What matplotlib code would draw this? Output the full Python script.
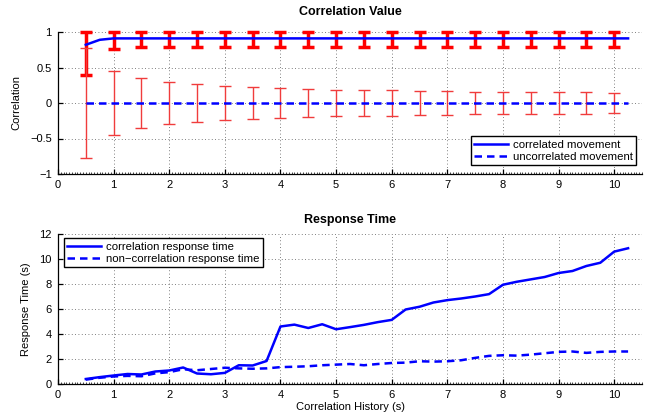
import matplotlib.pyplot as plt
import matplotlib.ticker as ticker
import numpy as np

plt.rcParams['font.family'] = ['Liberation Sans', 'DejaVu Sans']

# correlation value panel
err_x = [0.5, 1, 1.5, 2, 2.5, 3, 3.5, 4, 4.5, 5, 5.5, 6, 6.5, 7, 7.5, 8, 8.5, 9, 9.5, 10]
corr_lo = [0.40, 0.76, 0.79, 0.79, 0.79, 0.79, 0.79, 0.79, 0.79, 0.79,
           0.79, 0.79, 0.79, 0.79, 0.79, 0.79, 0.79, 0.79, 0.79, 0.79]
corr_hi = [1.0] * 20
uncorr_half = [0.78, 0.45, 0.35, 0.30, 0.27, 0.24, 0.22, 0.21, 0.20, 0.19,
               0.18, 0.18, 0.17, 0.17, 0.16, 0.16, 0.16, 0.15, 0.15, 0.14]

hist_x = [0.5 + 0.25 * i for i in range(40)]
corr_mean = [0.82, 0.89] + [0.91] * 38
uncorr_mean = [0.0] * 40

# response time panel
resp_corr = [0.40, 0.55, 0.68, 0.80, 0.76, 1.00, 1.08, 1.32, 0.84, 0.78,
             0.89, 1.50, 1.48, 1.84, 4.60, 4.75, 4.48, 4.78, 4.38, 4.55,
             4.73, 4.95, 5.13, 5.96, 6.18, 6.52, 6.71, 6.84, 7.00, 7.19,
             7.94, 8.18, 8.37, 8.56, 8.88, 9.04, 9.44, 9.70, 10.59, 10.86]
resp_uncorr = [0.35, 0.50, 0.60, 0.65, 0.62, 0.85, 0.95, 1.18, 1.10, 1.20,
               1.30, 1.25, 1.22, 1.25, 1.35, 1.38, 1.42, 1.50, 1.55, 1.60,
               1.50, 1.60, 1.68, 1.71, 1.82, 1.79, 1.82, 1.90, 2.09, 2.25,
               2.30, 2.27, 2.35, 2.46, 2.57, 2.60, 2.49, 2.57, 2.60, 2.60]

fig = plt.figure(figsize=(6.51, 4.18), dpi=100)
ax1 = fig.add_axes([58/651, 1 - 174/418, 584/651, 142/418])
ax2 = fig.add_axes([58/651, 1 - 384/418, 584/651, 150/418])

# error bars first so the lines sit on top
cm = np.array(corr_mean[::2])
eb1 = ax1.errorbar(err_x, cm, yerr=[cm - np.array(corr_lo), np.array(corr_hi) - cm],
                   fmt='none', ecolor='red', elinewidth=2.5, capsize=4.5, capthick=2.5)
eb2 = ax1.errorbar(err_x, np.zeros(20), yerr=uncorr_half, fmt='none',
                   ecolor='#f03c3c', elinewidth=1.0, capsize=4.5, capthick=1.0)
for eb in (eb1, eb2):
    for art in eb.lines[1] + eb.lines[2]:
        art.set_clip_on(False)
ax1.plot(hist_x, corr_mean, color='blue', lw=1.8, label='correlated movement')
ax1.plot(hist_x, uncorr_mean, color='blue', lw=1.8, ls=(0, (3, 2)),
         label='uncorrelated movement')

ax2.plot(hist_x, resp_corr, color='blue', lw=1.8, label='correlation response time')
ax2.plot(hist_x, resp_uncorr, color='blue', lw=1.8, ls=(0, (3, 2)),
         label='non\u2212correlation response time')

ax1.set_ylim(-1, 1)
ax1.set_yticks([-1, -0.5, 0, 0.5, 1])
ax1.set_yticklabels(['\u22121', '\u22120.5', '0', '0.5', '1'])
ax2.set_ylim(0, 12)
ax2.set_yticks(range(0, 13, 2))

for ax in (ax1, ax2):
    ax.set_xlim(0, 10.5)
    ax.set_xticks(range(11))
    ax.xaxis.set_minor_locator(ticker.MultipleLocator(0.05))
    ax.grid(True, color='#555555', ls=(0, (1, 3)), lw=0.6)
    ax.tick_params(direction='in', labelsize=8, length=3.5, width=0.9, pad=4.5)
    ax.tick_params(axis='x', which='minor', direction='in', length=1.5, width=0.5)
    ax.spines['top'].set_visible(False)
    ax.spines['right'].set_visible(False)
    for s in ('left', 'bottom'):
        ax.spines[s].set_linewidth(0.9)

ax1.set_title('Correlation Value', fontsize=9, fontweight='bold', pad=12)
ax1.set_ylabel('Correlation', fontsize=8, labelpad=6)
ax2.set_title('Response Time', fontsize=9, fontweight='bold', pad=8)
ax2.set_ylabel('Response Time (s)', fontsize=8, labelpad=6)
ax2.set_xlabel('Correlation History (s)', fontsize=8, labelpad=1)

leg1 = ax1.legend(loc='lower right', fontsize=8.2, fancybox=False, framealpha=1,
                  edgecolor='black', handlelength=3, borderpad=0.3, labelspacing=0.2,
                  handletextpad=0.4, bbox_to_anchor=(1.0, 0.02))
leg2 = ax2.legend(loc='upper left', fontsize=8.2, fancybox=False, framealpha=1,
                  edgecolor='black', handlelength=3, borderpad=0.3, labelspacing=0.2,
                  handletextpad=0.4, bbox_to_anchor=(0.0, 1.01))

fig.savefig('out.png', dpi=100)
